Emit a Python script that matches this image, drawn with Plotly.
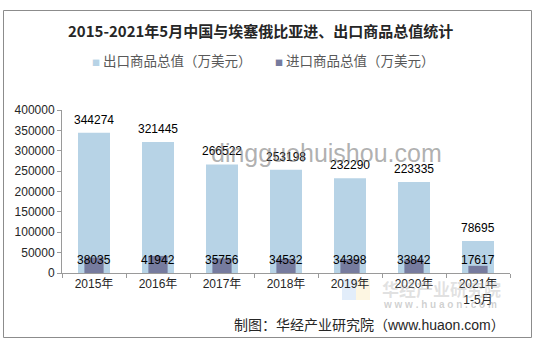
import plotly.graph_objects as go

# Ethiopia–China trade, 10k USD
categories = ["2015年", "2016年", "2017年", "2018年", "2019年", "2020年", "2021年<br>1-5月"]
exports = [344274, 321445, 266522, 253198, 232290, 223335, 78695]
imports = [38035, 41942, 35756, 34532, 34398, 33842, 17617]
y_ticks = [0, 50000, 100000, 150000, 200000, 250000, 300000, 350000, 400000]
series_names = ["出口商品总值（万美元）", "进口商品总值（万美元）"]

EXPORT_COLOR = "#B7D3E6"
IMPORT_COLOR = "#767B9E"
FONT = "Liberation Sans, Noto Sans CJK SC, sans-serif"
CJK = "Noto Sans CJK SC, sans-serif"
IMPORT_LABEL_LEVEL = 31000  # common height for the import value labels

# plot area geometry in pixels, used to place page-level text
L, R, T, B = 62, 510, 110, 273


def px(x):
    return (x - L) / (R - L)


def py(y):
    return (B - y) / (B - T)


def page_text(x, y, text, size, color, family=FONT, xanchor="center"):
    return dict(x=px(x), y=py(y), xref="paper", yref="paper", text=text, showarrow=False,
                xanchor=xanchor, yanchor="middle",
                font=dict(family=family, size=size, color=color))


fig = go.Figure()
fig.add_trace(go.Bar(
    x=categories, y=exports, name=series_names[0],
    marker=dict(color=EXPORT_COLOR, line=dict(width=0)), width=0.5,
))
fig.add_trace(go.Bar(
    x=categories, y=imports, name=series_names[1],
    marker=dict(color=IMPORT_COLOR, line=dict(width=0)), width=0.3,
))

annotations = []
for c, v in zip(categories, exports):
    annotations.append(dict(x=c, y=v, text=str(v), showarrow=False, xref="x", yref="y",
                            xanchor="center", yanchor="bottom", yshift=4,
                            font=dict(family=FONT, size=12, color="#000000")))
for c, v in zip(categories, imports):
    annotations.append(dict(x=c, y=IMPORT_LABEL_LEVEL, text=str(v), showarrow=False,
                            xref="x", yref="y", xanchor="center", yanchor="middle",
                            font=dict(family=FONT, size=12, color="#000000")))

# site watermarks
annotations.append(page_text(326, 153, "dingguohuishou.com", 25, "rgba(110,110,110,0.55)"))
annotations.append(page_text(441, 288, "<b>华经产业研究院</b>", 17, "rgba(170,170,170,0.35)", CJK))
annotations.append(page_text(440, 304, "<b>w w w . h u a o n . c o m</b>", 10,
                             "rgba(150,150,150,0.45)"))

# title and source line
annotations.append(page_text(260, 31, "<b>2015-2021年5月中国与埃塞俄比亚进、出口商品总值统计</b>",
                             15, "#262626", CJK))
annotations.append(page_text(507, 325, "制图：华经产业研究院（www.huaon.com）", 14, "#262626",
                             xanchor="right"))

# legend row: small square swatch followed by the series name
for x_left, name, color in [(90, series_names[0], EXPORT_COLOR), (273, series_names[1], IMPORT_COLOR)]:
    annotations.append(page_text(
        x_left, 60, f"<span style='color:{color};font-size:8px'>■</span> {name}",
        13.5, "#595959", CJK, xanchor="left"))

shapes = [
    # outer frame
    dict(type="rect", xref="paper", yref="paper",
         x0=px(3.5), x1=px(531.5), y0=py(337.5), y1=py(10.5),
         line=dict(color="#8C8C8C", width=1), fillcolor="rgba(0,0,0,0)", layer="below"),
    # small logo blocks
    dict(type="rect", xref="paper", yref="paper",
         x0=px(342), x1=px(356), y0=py(300), y1=py(279),
         line=dict(width=0), fillcolor="rgba(190,215,245,0.45)", layer="below"),
    dict(type="rect", xref="paper", yref="paper",
         x0=px(356), x1=px(370), y0=py(300), y1=py(279),
         line=dict(width=0), fillcolor="rgba(250,235,190,0.45)", layer="below"),
]

fig.update_layout(
    width=538, height=345,
    margin=dict(l=L, r=538 - R, t=T, b=345 - B),
    paper_bgcolor="white", plot_bgcolor="white",
    barmode="overlay",
    showlegend=False,
    annotations=annotations,
    shapes=shapes,
    xaxis=dict(
        type="category", showgrid=False, showline=True, linecolor="#9A9A9A", linewidth=1,
        ticks="outside", tickson="boundaries", ticklen=4, tickcolor="#9A9A9A",
        tickfont=dict(family=FONT, size=12, color="#262626"),
    ),
    yaxis=dict(
        range=[0, 400000], tickvals=y_ticks, ticktext=[str(t) for t in y_ticks],
        showgrid=False, showline=True, linecolor="#9A9A9A", linewidth=1,
        ticks="outside", ticklen=4, tickcolor="#9A9A9A", zeroline=False,
        tickfont=dict(family=FONT, size=12, color="#262626"),
    ),
)

fig.write_html("out.html")
